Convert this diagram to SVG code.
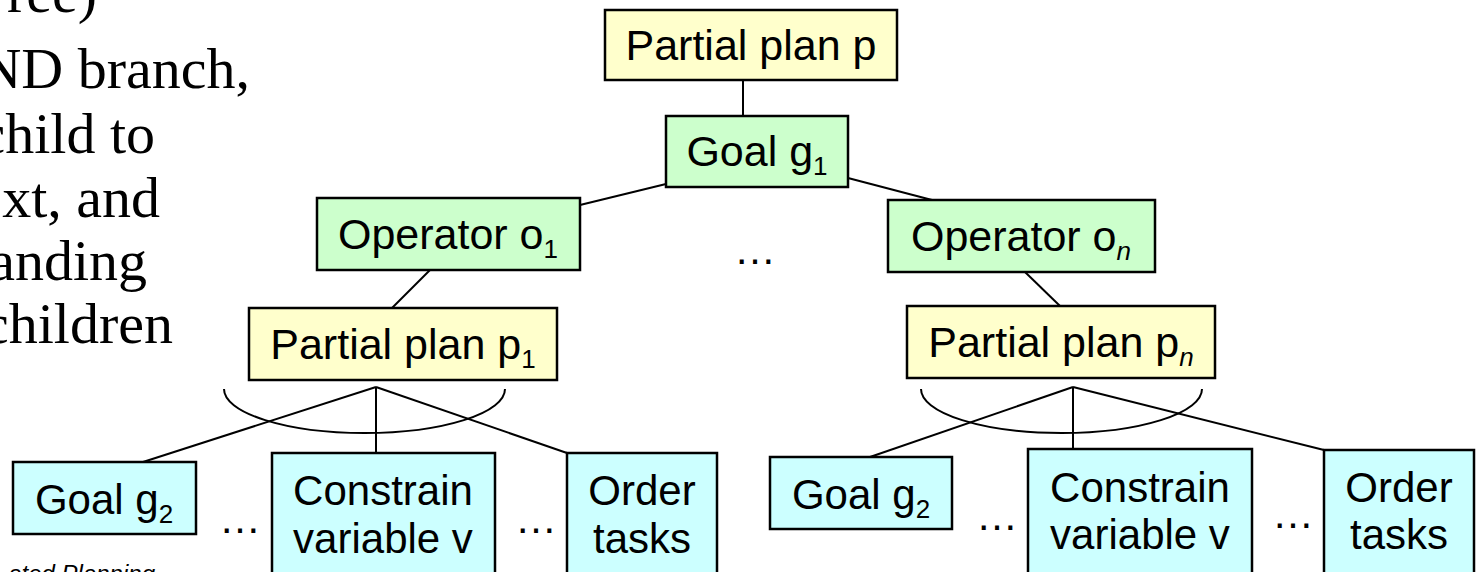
<svg xmlns="http://www.w3.org/2000/svg" width="1479" height="572" viewBox="0 0 1479 572">
<style>
.box{stroke:#000;stroke-width:2.5}
.yel{fill:#FFFFCC}
.grn{fill:#CCFFCC}
.cyn{fill:#CCFFFF}
.lbl{font-family:"Liberation Sans",Arial,sans-serif;font-size:42px;fill:#000;text-anchor:middle}
.big{font-size:43px}
.sub{font-size:26px}
.it{font-style:italic}
.ser{font-family:"Liberation Serif","Times New Roman",serif;font-size:58px;fill:#000;text-anchor:end}
.conn line,.conn path{stroke:#000;stroke-width:2;fill:none}
</style>
<rect width="1479" height="572" fill="#fff"/>
<g id="side-text">
<text class="ser" x="97" y="12">ree)</text>
<text class="ser" x="250" y="88">ND branch,</text>
<text class="ser" x="155" y="153">child to</text>
<text class="ser" x="160" y="217">xt, and</text>
<text class="ser" x="147" y="280">anding</text>
<text class="ser" x="173" y="343">children</text>
<text x="155" y="582" font-family="Liberation Sans, Arial, sans-serif" font-size="24" font-style="italic" text-anchor="end">ated Planning</text>
</g>
<g id="connectors" class="conn">
<line x1="743" y1="80" x2="743" y2="116"/>
<line x1="666" y1="184" x2="580" y2="205"/>
<line x1="848" y1="178" x2="932" y2="200"/>
<line x1="430" y1="270" x2="392" y2="308"/>
<line x1="1025" y1="272" x2="1060" y2="306"/>
<line x1="376" y1="387" x2="143" y2="462"/>
<line x1="376" y1="387" x2="376" y2="453"/>
<line x1="376" y1="387" x2="567" y2="453"/>
<path d="M224 389 A140.5 44 0 0 0 505 389"/>
<line x1="1073" y1="387" x2="870" y2="457"/>
<line x1="1073" y1="387" x2="1073" y2="449"/>
<line x1="1073" y1="387" x2="1324" y2="450"/>
<path d="M921 389 A140.5 44 0 0 0 1202 389"/>
</g>
<g id="node-p">
<rect class="box yel" x="605" y="10" width="292" height="70"/>
<text class="lbl big" x="751" y="60">Partial plan p</text>
</g>
<g id="node-g1">
<rect class="box grn" x="666" y="116" width="182" height="71"/>
<text class="lbl big" x="757" y="166">Goal g<tspan class="sub" dy="9">1</tspan></text>
</g>
<g id="node-o1">
<rect class="box grn" x="317" y="198" width="263" height="72"/>
<text class="lbl big" x="448" y="249">Operator o<tspan class="sub" dy="9">1</tspan></text>
</g>
<g id="node-dots-top">
<text class="lbl" x="755" y="264">…</text>
</g>
<g id="node-on">
<rect class="box grn" x="888" y="200" width="267" height="72"/>
<text class="lbl big" x="1021" y="251">Operator o<tspan class="sub it" dy="9">n</tspan></text>
</g>
<g id="node-p1">
<rect class="box yel" x="249" y="308" width="308" height="72"/>
<text class="lbl big" x="403" y="359">Partial plan p<tspan class="sub" dy="9">1</tspan></text>
</g>
<g id="node-pn">
<rect class="box yel" x="907" y="306" width="308" height="72"/>
<text class="lbl big" x="1061" y="357">Partial plan p<tspan class="sub it" dy="9">n</tspan></text>
</g>
<g id="node-g2-left">
<rect class="box cyn" x="13" y="462" width="183" height="72"/>
<text class="lbl" x="104" y="514">Goal g<tspan class="sub" dy="9">2</tspan></text>
</g>
<g id="node-dots-left1"><text class="lbl" x="240" y="533">…</text></g>
<g id="node-constrain-left">
<rect class="box cyn" x="272" y="453" width="223" height="130"/>
<text class="lbl" x="383" y="505">Constrain</text>
<text class="lbl" x="383" y="553">variable v</text>
</g>
<g id="node-dots-left2"><text class="lbl" x="536" y="533">…</text></g>
<g id="node-order-left">
<rect class="box cyn" x="567" y="453" width="150" height="130"/>
<text class="lbl" x="642" y="505">Order</text>
<text class="lbl" x="642" y="553">tasks</text>
</g>
<g id="node-g2-right">
<rect class="box cyn" x="770" y="457" width="182" height="72"/>
<text class="lbl" x="861" y="509">Goal g<tspan class="sub" dy="9">2</tspan></text>
</g>
<g id="node-dots-right1"><text class="lbl" x="997" y="530">…</text></g>
<g id="node-constrain-right">
<rect class="box cyn" x="1028" y="449" width="224" height="130"/>
<text class="lbl" x="1140" y="502">Constrain</text>
<text class="lbl" x="1140" y="549">variable v</text>
</g>
<g id="node-dots-right2"><text class="lbl" x="1293" y="528">…</text></g>
<g id="node-order-right">
<rect class="box cyn" x="1324" y="450" width="150" height="130"/>
<text class="lbl" x="1399" y="502">Order</text>
<text class="lbl" x="1399" y="549">tasks</text>
</g>
</svg>
